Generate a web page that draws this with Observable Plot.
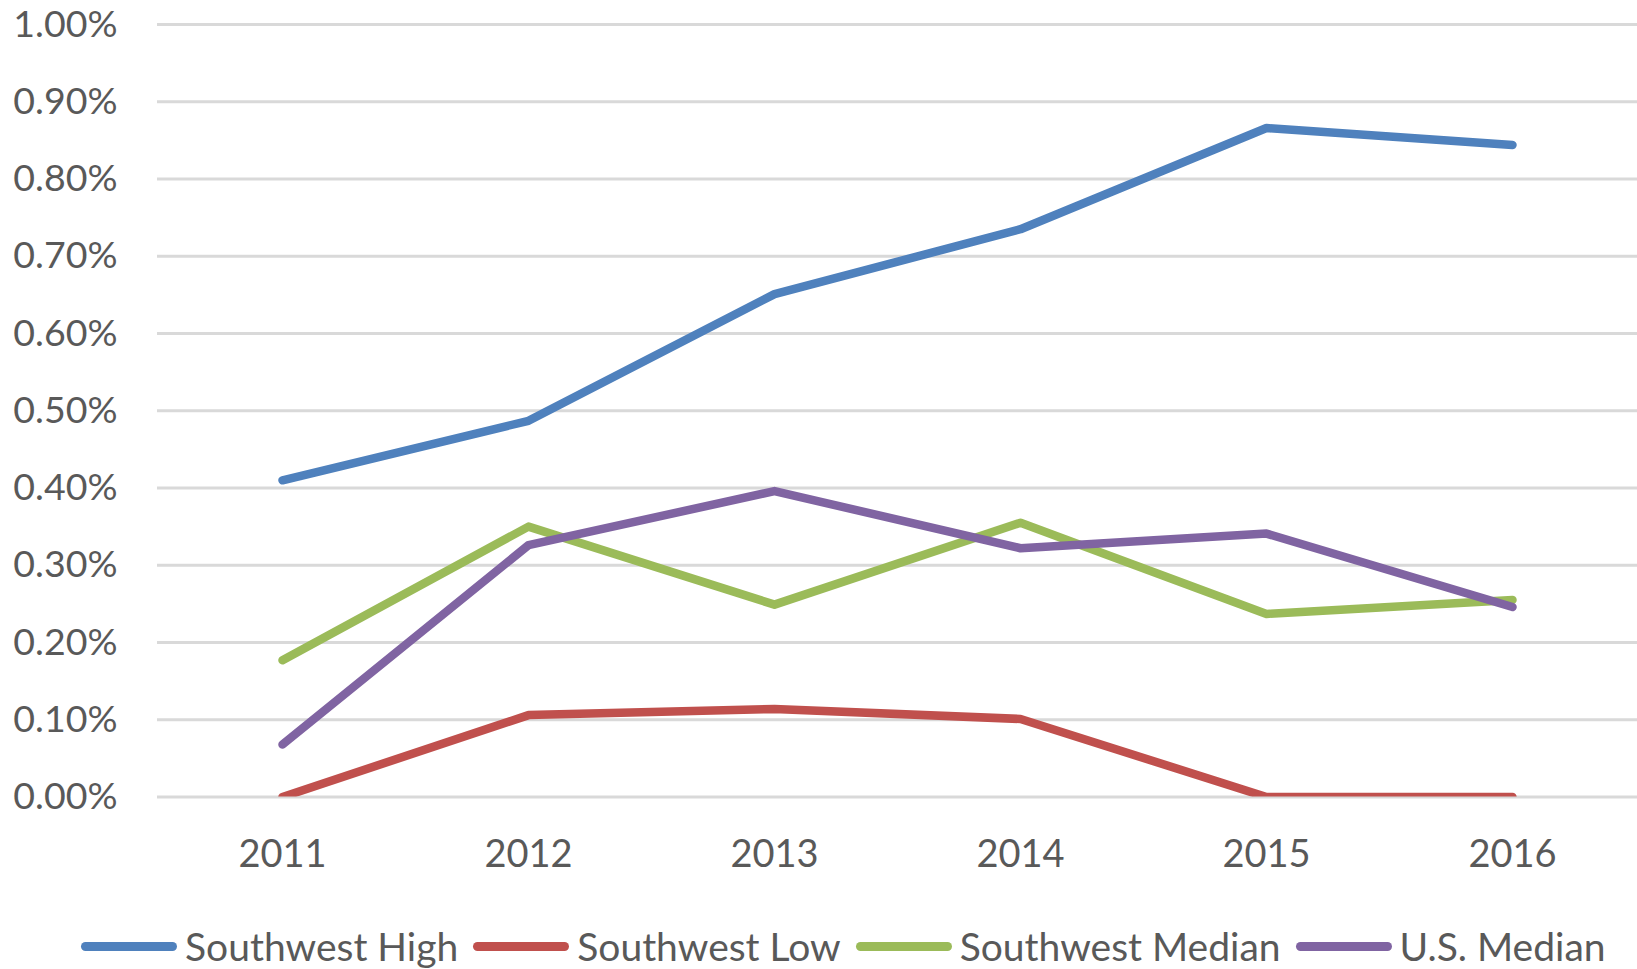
<!DOCTYPE html>
<html>
<head>
<meta charset="utf-8">
<script src="https://cdn.jsdelivr.net/npm/d3@7"></script>
<script src="https://cdn.jsdelivr.net/npm/@observablehq/plot@0.6"></script>
<style>
  html, body { margin: 0; padding: 0; background: #fff; }
  body { width: 1637px; height: 969px; overflow: hidden; font-family: Lato, "Open Sans", sans-serif; color: #595959; }
  #legend { display: flex; align-items: center; margin-left: 81px; height: 60px; margin-top: 26px; font-size: 39px; }
  .item { display: flex; align-items: center; margin-right: 15px; }
  .sw { width: 96px; height: 9px; border-radius: 4.5px; margin-right: 8px; }
</style>
</head>
<body>
<div id="chart"></div>
<div id="legend"></div>
<script>
const years = ["2011", "2012", "2013", "2014", "2015", "2016"];
const seriesNames = ["Southwest High", "Southwest Low", "Southwest Median", "U.S. Median"];
const seriesColors = ["#4F81BD", "#C0504D", "#9BBB59", "#8064A2"];
const southwestHigh = [0.410, 0.487, 0.651, 0.735, 0.866, 0.844];
const southwestLow = [0.000, 0.106, 0.114, 0.101, 0.000, 0.000];
const southwestMedian = [0.177, 0.350, 0.249, 0.355, 0.237, 0.255];
const usMedian = [0.068, 0.326, 0.396, 0.322, 0.341, 0.246];
const yTicks = [0, 0.1, 0.2, 0.3, 0.4, 0.5, 0.6, 0.7, 0.8, 0.9, 1.0];

const seriesValues = [southwestHigh, southwestLow, southwestMedian, usMedian];
const rows = [];
seriesNames.forEach((name, s) => {
  years.forEach((yr, i) => rows.push({series: name, year: yr, value: seriesValues[s][i]}));
});

const W = 1637, H = 890;
const chart = Plot.plot({
  width: W,
  height: H,
  marginTop: 24,
  marginBottom: H - 796.5,
  marginLeft: 157,
  marginRight: 0,
  style: {fontFamily: "Lato, 'Open Sans', sans-serif", fontSize: "37px", color: "#595959", background: "#fff"},
  x: {type: "point", domain: years, padding: 0.5, label: null},
  y: {domain: [0, 1], label: null},
  color: {domain: seriesNames, range: seriesColors},
  marks: [
    Plot.ruleY(yTicks, {stroke: "#D9D9D9", strokeWidth: 3}),
    Plot.axisY({ticks: yTicks, tickSize: 0, tickPadding: 40, tickFormat: d => d.toFixed(2) + "%", fill: "#595959", fontSize: 37.5, label: null}),
    Plot.axisX({tickSize: 0, tickPadding: 43, fill: "#595959", fontSize: 38, label: null}),
    ...seriesNames.map((name, s) =>
      Plot.line(rows.filter(r => r.series === name), {
        x: "year", y: "value", stroke: seriesColors[s], strokeWidth: 8.5,
        strokeLinecap: "round", strokeLinejoin: "round", clip: true
      })
    )
  ]
});
document.getElementById("chart").appendChild(chart);

const legend = document.getElementById("legend");
seriesNames.forEach((name, s) => {
  const it = document.createElement("div");
  it.className = "item";
  const sw = document.createElement("div");
  sw.className = "sw";
  sw.style.background = seriesColors[s];
  const tx = document.createElement("span");
  tx.textContent = name;
  it.appendChild(sw);
  it.appendChild(tx);
  legend.appendChild(it);
});
</script>
</body>
</html>
